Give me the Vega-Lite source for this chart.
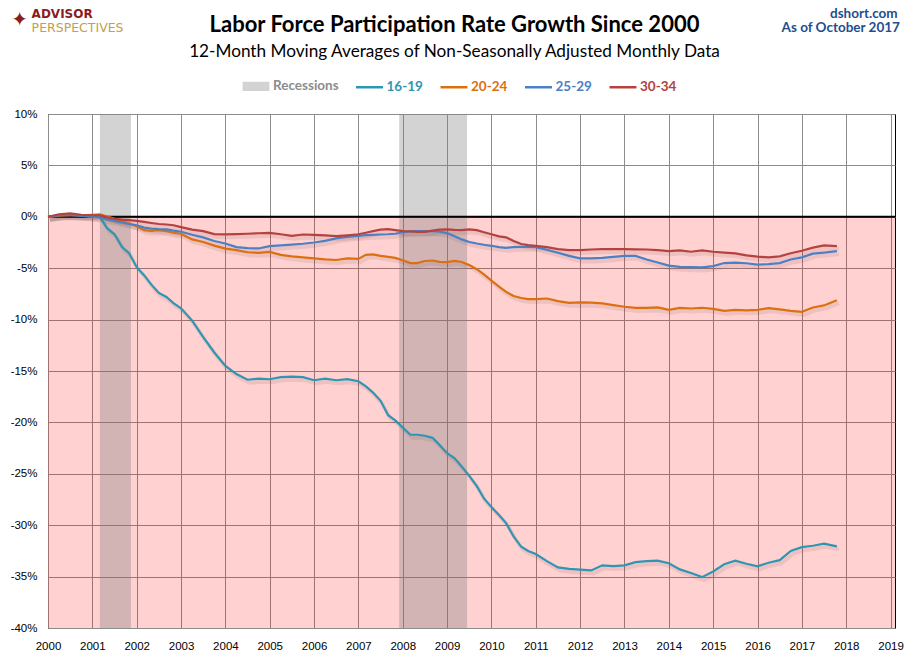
{
  "$schema": "https://vega.github.io/schema/vega-lite/v6.json",
  "width": 847,
  "height": 514,
  "autosize": {"type": "none"},
  "padding": {"left": 48, "top": 114, "right": 15, "bottom": 33},
  "background": "white",
  "config": {
    "view": {"stroke": "black", "strokeWidth": 1},
    "font": "Liberation Sans"
  },
  "title": {
    "text": "Labor Force Participation Rate Growth Since 2000",
    "subtitle": "12-Month Moving Averages of Non-Seasonally Adjusted Monthly Data",
    "anchor": "middle",
    "dx": -17,
    "offset": -54,
    "font": "Lato",
    "fontSize": 22,
    "fontWeight": "bold",
    "color": "black",
    "subtitleFont": "Lato",
    "subtitleFontSize": 17.2,
    "subtitleColor": "black",
    "subtitlePadding": 6
  },
  "datasets": {
    "recessions": [
      {"start": 2001.17, "end": 2001.87},
      {"start": 2007.92, "end": 2009.45}
    ],
    "lfpr": [
      {"t": 2000.00, "16-19": 0, "20-24": 0, "25-29": 0, "30-34": 0},
      {"t": 2000.25, "16-19": 0.15, "20-24": 0.1, "25-29": 0.15, "30-34": 0.25},
      {"t": 2000.50, "16-19": 0.2, "20-24": 0.17, "25-29": 0.15, "30-34": 0.33},
      {"t": 2000.75, "16-19": 0.1, "20-24": 0.15, "25-29": 0.1, "30-34": 0.2},
      {"t": 2001.00, "16-19": 0.05, "20-24": 0.2, "25-29": 0.0, "30-34": 0.15},
      {"t": 2001.17, "16-19": 0.0, "20-24": 0.23, "25-29": -0.06, "30-34": 0.15},
      {"t": 2001.33, "16-19": -1.1, "20-24": 0.05, "25-29": -0.25, "30-34": -0.05},
      {"t": 2001.50, "16-19": -1.7, "20-24": -0.2, "25-29": -0.4, "30-34": -0.2},
      {"t": 2001.67, "16-19": -2.95, "20-24": -0.4, "25-29": -0.55, "30-34": -0.28},
      {"t": 2001.83, "16-19": -3.55, "20-24": -0.65, "25-29": -0.7, "30-34": -0.33},
      {"t": 2002.00, "16-19": -4.9, "20-24": -0.92, "25-29": -0.82, "30-34": -0.4},
      {"t": 2002.17, "16-19": -5.7, "20-24": -1.3, "25-29": -1.05, "30-34": -0.5},
      {"t": 2002.33, "16-19": -6.6, "20-24": -1.36, "25-29": -1.15, "30-34": -0.6},
      {"t": 2002.50, "16-19": -7.4, "20-24": -1.3, "25-29": -1.2, "30-34": -0.7},
      {"t": 2002.67, "16-19": -7.8, "20-24": -1.4, "25-29": -1.23, "30-34": -0.75},
      {"t": 2002.83, "16-19": -8.4, "20-24": -1.55, "25-29": -1.35, "30-34": -0.82},
      {"t": 2003.00, "16-19": -8.9, "20-24": -1.65, "25-29": -1.45, "30-34": -1.0},
      {"t": 2003.25, "16-19": -10.1, "20-24": -2.2, "25-29": -1.75, "30-34": -1.25},
      {"t": 2003.50, "16-19": -11.7, "20-24": -2.45, "25-29": -2.0, "30-34": -1.4},
      {"t": 2003.75, "16-19": -13.2, "20-24": -2.8, "25-29": -2.35, "30-34": -1.68},
      {"t": 2004.00, "16-19": -14.5, "20-24": -3.1, "25-29": -2.6, "30-34": -1.7},
      {"t": 2004.25, "16-19": -15.3, "20-24": -3.25, "25-29": -2.95, "30-34": -1.68},
      {"t": 2004.50, "16-19": -15.85, "20-24": -3.45, "25-29": -3.05, "30-34": -1.65},
      {"t": 2004.75, "16-19": -15.75, "20-24": -3.5, "25-29": -3.08, "30-34": -1.6},
      {"t": 2005.00, "16-19": -15.8, "20-24": -3.42, "25-29": -2.85, "30-34": -1.56},
      {"t": 2005.25, "16-19": -15.6, "20-24": -3.7, "25-29": -2.78, "30-34": -1.7},
      {"t": 2005.50, "16-19": -15.55, "20-24": -3.85, "25-29": -2.7, "30-34": -1.85},
      {"t": 2005.75, "16-19": -15.6, "20-24": -3.95, "25-29": -2.62, "30-34": -1.72},
      {"t": 2006.00, "16-19": -15.9, "20-24": -4.05, "25-29": -2.5, "30-34": -1.75},
      {"t": 2006.25, "16-19": -15.75, "20-24": -4.15, "25-29": -2.34, "30-34": -1.8},
      {"t": 2006.50, "16-19": -15.9, "20-24": -4.2, "25-29": -2.1, "30-34": -1.88},
      {"t": 2006.75, "16-19": -15.8, "20-24": -4.05, "25-29": -1.95, "30-34": -1.8},
      {"t": 2007.00, "16-19": -16.0, "20-24": -4.1, "25-29": -1.85, "30-34": -1.7},
      {"t": 2007.17, "16-19": -16.5, "20-24": -3.7, "25-29": -1.78, "30-34": -1.55},
      {"t": 2007.33, "16-19": -17.1, "20-24": -3.65, "25-29": -1.75, "30-34": -1.4},
      {"t": 2007.50, "16-19": -17.9, "20-24": -3.8, "25-29": -1.72, "30-34": -1.25},
      {"t": 2007.67, "16-19": -19.3, "20-24": -3.9, "25-29": -1.7, "30-34": -1.2},
      {"t": 2007.83, "16-19": -19.8, "20-24": -4.0, "25-29": -1.65, "30-34": -1.3},
      {"t": 2008.00, "16-19": -20.5, "20-24": -4.22, "25-29": -1.5, "30-34": -1.4},
      {"t": 2008.17, "16-19": -21.2, "20-24": -4.5, "25-29": -1.42, "30-34": -1.42},
      {"t": 2008.33, "16-19": -21.2, "20-24": -4.5, "25-29": -1.39, "30-34": -1.46},
      {"t": 2008.50, "16-19": -21.3, "20-24": -4.3, "25-29": -1.39, "30-34": -1.46},
      {"t": 2008.67, "16-19": -21.5, "20-24": -4.25, "25-29": -1.4, "30-34": -1.35},
      {"t": 2008.83, "16-19": -22.2, "20-24": -4.38, "25-29": -1.45, "30-34": -1.25},
      {"t": 2009.00, "16-19": -23.0, "20-24": -4.4, "25-29": -1.58, "30-34": -1.23},
      {"t": 2009.17, "16-19": -23.5, "20-24": -4.28, "25-29": -1.9, "30-34": -1.28},
      {"t": 2009.33, "16-19": -24.3, "20-24": -4.4, "25-29": -2.2, "30-34": -1.3},
      {"t": 2009.50, "16-19": -25.2, "20-24": -4.7, "25-29": -2.45, "30-34": -1.22},
      {"t": 2009.67, "16-19": -26.2, "20-24": -5.1, "25-29": -2.6, "30-34": -1.3},
      {"t": 2009.83, "16-19": -27.4, "20-24": -5.6, "25-29": -2.72, "30-34": -1.5},
      {"t": 2010.00, "16-19": -28.24, "20-24": -6.2, "25-29": -2.82, "30-34": -1.7},
      {"t": 2010.17, "16-19": -29.0, "20-24": -6.8, "25-29": -2.95, "30-34": -1.9},
      {"t": 2010.33, "16-19": -29.8, "20-24": -7.3, "25-29": -3.02, "30-34": -2.0},
      {"t": 2010.50, "16-19": -31.1, "20-24": -7.7, "25-29": -2.95, "30-34": -2.35},
      {"t": 2010.67, "16-19": -32.1, "20-24": -7.9, "25-29": -2.92, "30-34": -2.65},
      {"t": 2010.83, "16-19": -32.5, "20-24": -8.0, "25-29": -2.92, "30-34": -2.75},
      {"t": 2011.00, "16-19": -32.8, "20-24": -8.0, "25-29": -2.95, "30-34": -2.82},
      {"t": 2011.25, "16-19": -33.5, "20-24": -7.95, "25-29": -3.2, "30-34": -2.95},
      {"t": 2011.50, "16-19": -34.1, "20-24": -8.2, "25-29": -3.5, "30-34": -3.15},
      {"t": 2011.75, "16-19": -34.25, "20-24": -8.37, "25-29": -3.8, "30-34": -3.25},
      {"t": 2012.00, "16-19": -34.33, "20-24": -8.33, "25-29": -4.05, "30-34": -3.24},
      {"t": 2012.25, "16-19": -34.4, "20-24": -8.35, "25-29": -4.05, "30-34": -3.18},
      {"t": 2012.50, "16-19": -33.9, "20-24": -8.43, "25-29": -4.0, "30-34": -3.15},
      {"t": 2012.75, "16-19": -33.98, "20-24": -8.6, "25-29": -3.9, "30-34": -3.15},
      {"t": 2013.00, "16-19": -33.9, "20-24": -8.75, "25-29": -3.8, "30-34": -3.15},
      {"t": 2013.25, "16-19": -33.6, "20-24": -8.86, "25-29": -3.8, "30-34": -3.17},
      {"t": 2013.50, "16-19": -33.5, "20-24": -8.85, "25-29": -4.15, "30-34": -3.18},
      {"t": 2013.75, "16-19": -33.45, "20-24": -8.82, "25-29": -4.45, "30-34": -3.25},
      {"t": 2014.00, "16-19": -33.7, "20-24": -9.05, "25-29": -4.75, "30-34": -3.34},
      {"t": 2014.25, "16-19": -34.3, "20-24": -8.86, "25-29": -4.87, "30-34": -3.26},
      {"t": 2014.50, "16-19": -34.65, "20-24": -8.92, "25-29": -4.9, "30-34": -3.4},
      {"t": 2014.75, "16-19": -35.05, "20-24": -8.85, "25-29": -4.92, "30-34": -3.26},
      {"t": 2015.00, "16-19": -34.5, "20-24": -8.95, "25-29": -4.8, "30-34": -3.4},
      {"t": 2015.25, "16-19": -33.8, "20-24": -9.15, "25-29": -4.5, "30-34": -3.48},
      {"t": 2015.50, "16-19": -33.45, "20-24": -9.05, "25-29": -4.45, "30-34": -3.55},
      {"t": 2015.75, "16-19": -33.75, "20-24": -9.1, "25-29": -4.52, "30-34": -3.75},
      {"t": 2016.00, "16-19": -34.0, "20-24": -9.05, "25-29": -4.65, "30-34": -3.88},
      {"t": 2016.25, "16-19": -33.65, "20-24": -8.88, "25-29": -4.6, "30-34": -3.95},
      {"t": 2016.50, "16-19": -33.4, "20-24": -9.0, "25-29": -4.5, "30-34": -3.85},
      {"t": 2016.75, "16-19": -32.5, "20-24": -9.15, "25-29": -4.15, "30-34": -3.55},
      {"t": 2017.00, "16-19": -32.13, "20-24": -9.25, "25-29": -3.95, "30-34": -3.3},
      {"t": 2017.25, "16-19": -32.0, "20-24": -8.82, "25-29": -3.58, "30-34": -3.0},
      {"t": 2017.50, "16-19": -31.8, "20-24": -8.62, "25-29": -3.48, "30-34": -2.78},
      {"t": 2017.79, "16-19": -32.06, "20-24": -8.11, "25-29": -3.34, "30-34": -2.85}
    ]
  },
  "encoding": {
    "x": {
      "type": "quantitative",
      "scale": {"domain": [2000, 2019.1], "nice": false, "zero": false},
      "axis": {
        "title": null,
        "values": [2000, 2001, 2002, 2003, 2004, 2005, 2006, 2007, 2008, 2009, 2010, 2011, 2012, 2013, 2014, 2015, 2016, 2017, 2018, 2019],
        "format": "d",
        "grid": true,
        "gridColor": "#8c8c8c",
        "ticks": false,
        "domain": false,
        "labelFlush": false,
        "labelOverlap": false,
        "labelPadding": 12,
        "labelFontSize": 11.5,
        "labelColor": "black"
      }
    },
    "y": {
      "type": "quantitative",
      "scale": {"domain": [-40, 10], "nice": false, "zero": false},
      "axis": {
        "title": null,
        "values": [-40, -35, -30, -25, -20, -15, -10, -5, 0, 5, 10],
        "labelExpr": "datum.value + '%'",
        "grid": true,
        "gridColor": "#8c8c8c",
        "ticks": false,
        "domain": false,
        "labelPadding": 11,
        "labelFontSize": 11.5,
        "labelColor": "black"
      }
    }
  },
  "layer": [
    {
      "data": {"values": [{}]},
      "mark": {"type": "rect", "color": "#ff0000", "opacity": 0.18},
      "encoding": {"y": {"datum": 0}, "y2": {"datum": -40}}
    },
    {
      "data": {"name": "recessions"},
      "mark": {"type": "rect", "color": "#7f7f7f", "opacity": 0.34},
      "encoding": {"x": {"field": "start"}, "x2": {"field": "end"}}
    },
    {
      "data": {"values": [{}]},
      "mark": {"type": "rule", "color": "black", "strokeWidth": 2},
      "encoding": {"y": {"datum": 0}}
    },
    {
      "data": {"name": "lfpr"},
      "transform": [{"fold": ["16-19", "20-24", "25-29", "30-34"], "as": ["series", "pct"]}],
      "mark": {"type": "line", "color": "#5a3030", "opacity": 0.1, "strokeWidth": 4, "xOffset": 2, "yOffset": 3},
      "encoding": {
        "x": {"field": "t"},
        "y": {"field": "pct"},
        "detail": {"field": "series"}
      }
    },
    {
      "data": {"name": "lfpr"},
      "transform": [{"fold": ["16-19", "20-24", "25-29", "30-34"], "as": ["series", "pct"]}],
      "mark": {"type": "line", "strokeWidth": 2.2},
      "encoding": {
        "x": {"field": "t"},
        "y": {"field": "pct"},
        "color": {
          "field": "series",
          "type": "nominal",
          "scale": {
            "domain": ["Recessions", "16-19", "20-24", "25-29", "30-34"],
            "range": ["#d3d3d3", "#2e96b2", "#db700f", "#4c80c4", "#b4423f"]
          },
          "legend": {
            "title": null,
            "orient": "none",
            "legendX": 193,
            "legendY": -43,
            "direction": "horizontal",
            "symbolType": "stroke",
            "symbolSize": 729,
            "symbolStrokeWidth": 2.5,
            "labelFont": "Lato",
            "labelFontSize": 13.5,
            "labelFontWeight": "bold",
            "labelOffset": 2,
            "columnPadding": 11.5,
            "encode": {
              "labels": {"update": {"fill": {"signal": "datum.value === 'Recessions' ? '#8c8c8c' : scale('color', datum.value)"}}},
              "symbols": {
                "update": {
                  "shape": {"signal": "datum.value === 'Recessions' ? 'M-0.9,-0.25H0.9V0.25H-0.9Z' : 'stroke'"},
                  "fill": {"signal": "datum.value === 'Recessions' ? '#d3d3d3' : 'transparent'"},
                  "opacity": {"value": 1}
                }
              }
            }
          }
        }
      }
    },
    {
      "data": {"values": [{}]},
      "mark": {"type": "text", "text": "dshort.com", "align": "right", "baseline": "alphabetic", "font": "Lato", "fontSize": 13.5, "fontWeight": "bold", "color": "#1f4e8c"},
      "encoding": {"x": {"datum": 2019.16}, "y": {"datum": 19.33}}
    },
    {
      "data": {"values": [{}]},
      "mark": {"type": "text", "text": "As of October 2017", "align": "right", "baseline": "alphabetic", "font": "Lato", "fontSize": 13.5, "fontWeight": "bold", "color": "#1f4e8c"},
      "encoding": {"x": {"datum": 2019.21}, "y": {"datum": 17.93}}
    },
    {
      "data": {"values": [{}]},
      "mark": {"type": "text", "text": "✦", "align": "center", "baseline": "middle", "font": "DejaVu Sans", "fontSize": 20, "color": "#8b1c1c"},
      "encoding": {"x": {"datum": 1999.36}, "y": {"datum": 19.18}}
    },
    {
      "data": {"values": [{}]},
      "mark": {"type": "text", "text": "ADVISOR", "align": "left", "baseline": "alphabetic", "font": "DejaVu Sans", "fontSize": 12, "fontWeight": "bold", "color": "#8b1c1c"},
      "encoding": {"x": {"datum": 1999.63}, "y": {"datum": 19.3}}
    },
    {
      "data": {"values": [{}]},
      "mark": {"type": "text", "text": "PERSPECTIVES", "align": "left", "baseline": "alphabetic", "font": "DejaVu Sans", "fontSize": 12.5, "color": "#c4a04a"},
      "encoding": {"x": {"datum": 1999.63}, "y": {"datum": 18.0}}
    }
  ]
}
